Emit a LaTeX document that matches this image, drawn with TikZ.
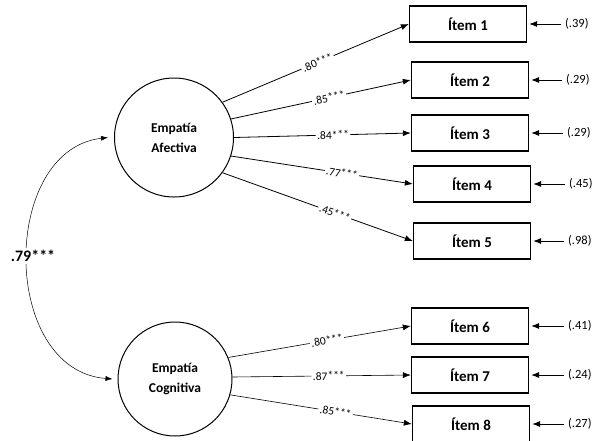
\documentclass[tikz,border=0pt]{standalone}
\usepackage{fontspec}
\setmainfont{Carlito}
\usetikzlibrary{arrows.meta}
\begin{document}
\begin{tikzpicture}[x=1pt,y=-1pt,
 lat/.style={circle,draw,line width=1pt,inner sep=0pt,align=center,font=\bfseries\fontsize{13.5}{20}\selectfont},
 item/.style={draw,line width=1.3pt,minimum width=117pt,minimum height=36pt,inner sep=0pt,font=\bfseries\fontsize{15}{17}\selectfont},
 load/.style={-{Latex[length=8pt,width=6pt]},line width=0.8pt},
 loadc/.style={-{Latex[length=8pt,width=6pt]},line width=0.6pt},
 lab/.style={fill=white,inner sep=1.5pt,sloped,font=\fontsize{11.5}{13}\selectfont},
 err/.style={font=\fontsize{12.5}{14}\selectfont,inner sep=1pt,anchor=west},
 tip/.style={-{Latex[length=8pt,width=6pt]},line width=0.8pt}]
\useasboundingbox (0,0) rectangle (594,440);
% latent variables
\node[lat,minimum size=119pt] (afe) at (174,137.5) {Empatía\\Afectiva};
\node[lat,minimum size=114pt] (cog) at (175,379) {Empatía\\Cognitiva};
% items
\node[item] (i1) at (468,24) {Ítem 1};
\node[item] (i2) at (470,80) {Ítem 2};
\node[item] (i3) at (470,133) {Ítem 3};
\node[item] (i4) at (472,184) {Ítem 4};
\node[item] (i5) at (472,241) {Ítem 5};
\node[item] (i6) at (470,326) {Ítem 6};
\node[item] (i7) at (470,375) {Ítem 7};
\node[item] (i8) at (471,424) {Ítem 8};
% error labels
\node[err] (e1) at (564,24) {(.39)};
\node[err] (e2) at (565,80) {(.29)};
\node[err] (e3) at (566,133) {(.29)};
\node[err] (e4) at (568,184) {(.45)};
\node[err] (e5) at (567,241) {(.98)};
\node[err] (e6) at (567,326) {(.41)};
\node[err] (e7) at (567,375) {(.24)};
\node[err] (e8) at (567,424) {(.27)};
\foreach \k in {1,...,8}{
  \draw[tip,shorten <=3pt] (e\k.west) -- ([xshift=2pt]i\k.east);
}
% loadings
\draw[load] (afe.36) -- (i1.west) node[lab,pos=0.51] (l1) {.80***};
\draw[load] (afe.18) -- (i2.west) node[lab,pos=0.545] (l2) {.85***};
\draw[load] (afe.0) -- (i3.west) node[lab,pos=0.56] (l3) {.84***};
\draw[load] (afe.-18) -- (i4.west) node[lab,pos=0.61] (l4) {.77***};
\draw[load] (afe.-36) -- (i5.west) node[lab,pos=0.59] (l5) {.45***};
\draw[loadc] (cog.22) -- (i6.west) node[lab,pos=0.54] (l6) {.80***};
\draw[loadc] (cog.2) -- (i7.west) node[lab,pos=0.54] (l7) {.87***};
\draw[loadc] (cog.-16) -- (i8.west) node[lab,pos=0.58] (l8) {.85***};
% covariance
\draw[{Latex[length=7pt,width=5pt]}-{Latex[length=7pt,width=5pt]},line width=0.5pt]
  ([xshift=-6pt]afe.west) .. controls (0,150) and (0,370) .. ([xshift=-5pt]cog.west);
\node[fill=white,inner sep=2pt,font=\bfseries\fontsize{16}{18}\selectfont] (cov) at (33,256) {.79***};
\end{tikzpicture}
\end{document}
